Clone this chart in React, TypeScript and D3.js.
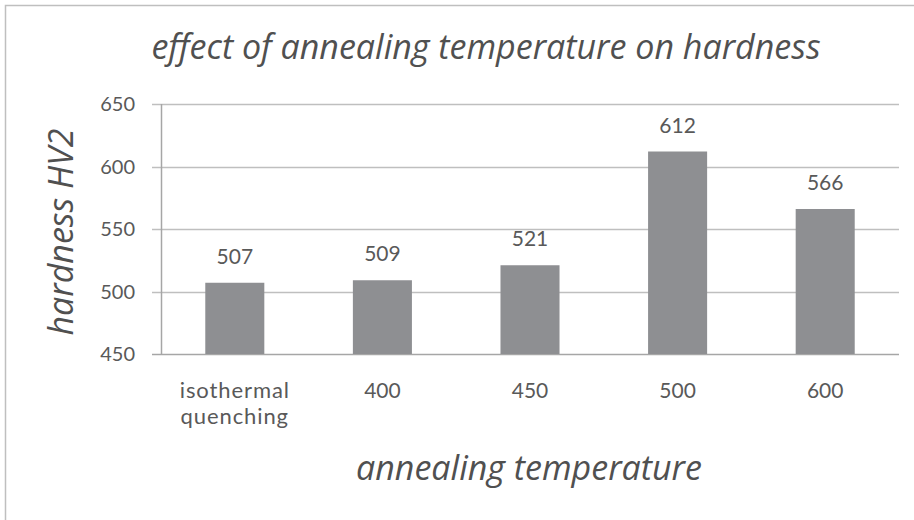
import * as d3 from "d3";
import { useEffect, useRef } from "react";

const categories = ["isothermal quenching", "400", "450", "500", "600"];
const hardness = [507, 509, 521, 612, 566];
const yTicks = [450, 500, 550, 600, 650];

const title = "effect of annealing temperature on hardness";
const xTitle = "annealing temperature";
const yTitle = "hardness HV2";

export default function App() {
  const svgRef = useRef<SVGSVGElement>(null);

  useEffect(() => {
    const width = 914;
    const height = 520;
    const svg = d3.select(svgRef.current).attr("width", width).attr("height", height);
    svg.selectAll("*").remove();

    const left = 161, right = 899, top = 104, bottom = 354;
    const textColor = "#595959";
    const font = "Lato, 'Open Sans', sans-serif";
    const titleFont = "'Open Sans', Lato, sans-serif";

    // chart frame
    svg.append("rect")
      .attr("x", 5.5).attr("y", 5.5)
      .attr("width", width + 20).attr("height", height + 20)
      .attr("fill", "#fff")
      .attr("stroke", "#bfbfbf")
      .attr("stroke-width", 1.5);

    const x = d3.scaleBand<string>().domain(categories).range([left, right]).paddingInner(0.6).paddingOuter(0.3);
    const y = d3.scaleLinear().domain([450, 650]).range([bottom, top]);

    // gridlines
    svg.append("g")
      .selectAll("line")
      .data(yTicks)
      .join("line")
      .attr("x1", left - 9)
      .attr("x2", right)
      .attr("y1", d => Math.round(y(d)) + 0.5)
      .attr("y2", d => Math.round(y(d)) + 0.5)
      .attr("stroke", d => d === 450 ? "#a6a6a6" : "#bfbfbf")
      .attr("stroke-width", 1.5);

    // y axis line
    svg.append("line")
      .attr("x1", left + 0.5).attr("x2", left + 0.5)
      .attr("y1", top).attr("y2", bottom + 1)
      .attr("stroke", "#a6a6a6")
      .attr("stroke-width", 1.5);

    // tick labels
    svg.append("g")
      .selectAll("text")
      .data(yTicks)
      .join("text")
      .attr("x", 135)
      .attr("y", d => y(d))
      .attr("dy", "0.35em")
      .attr("text-anchor", "end")
      .attr("fill", textColor)
      .attr("font-family", font)
      .attr("font-size", 20)
      .text(d => d);

    // bars
    svg.append("g")
      .selectAll("rect")
      .data(hardness)
      .join("rect")
      .attr("x", (d, i) => x(categories[i])!)
      .attr("y", d => y(d))
      .attr("width", x.bandwidth())
      .attr("height", d => bottom - y(d))
      .attr("fill", "#8e8f92");

    // data labels
    svg.append("g")
      .selectAll("text")
      .data(hardness)
      .join("text")
      .attr("x", (d, i) => x(categories[i])! + x.bandwidth() / 2)
      .attr("y", d => y(d) - 19)
      .attr("text-anchor", "middle")
      .attr("fill", textColor)
      .attr("font-family", font)
      .attr("font-size", 21)
      .text(d => d);

    // category labels (one text per line)
    const lines = categories.flatMap(c => c.split(" ").map((w, i) => ({ c, w, i })));
    svg.append("g")
      .selectAll("text")
      .data(lines)
      .join("text")
      .attr("x", d => x(d.c)! + x.bandwidth() / 2)
      .attr("y", d => 398 + d.i * 26)
      .attr("text-anchor", "middle")
      .attr("fill", textColor)
      .attr("font-family", font)
      .attr("font-size", d => /\d/.test(d.w) ? 21 : 22)
      .attr("letter-spacing", d => /\d/.test(d.w) ? 0 : 0.9)
      .text(d => d.w);

    // titles
    svg.append("text")
      .attr("x", 486)
      .attr("y", 59)
      .attr("text-anchor", "middle")
      .attr("fill", "#505050")
      .attr("font-family", titleFont)
      .attr("font-style", "italic")
      .attr("font-size", 34)
      .text(title);

    svg.append("text")
      .attr("x", 529)
      .attr("y", 480)
      .attr("text-anchor", "middle")
      .attr("fill", "#505050")
      .attr("font-family", titleFont)
      .attr("font-style", "italic")
      .attr("font-size", 34)
      .text(xTitle);

    svg.append("text")
      .attr("transform", "translate(73,232) rotate(-90)")
      .attr("text-anchor", "middle")
      .attr("fill", "#505050")
      .attr("font-family", titleFont)
      .attr("font-style", "italic")
      .attr("font-size", 34)
      .text(yTitle);
  }, []);

  return <svg ref={svgRef} style={{ position: "absolute", left: 0, top: 0 }}></svg>;
}
